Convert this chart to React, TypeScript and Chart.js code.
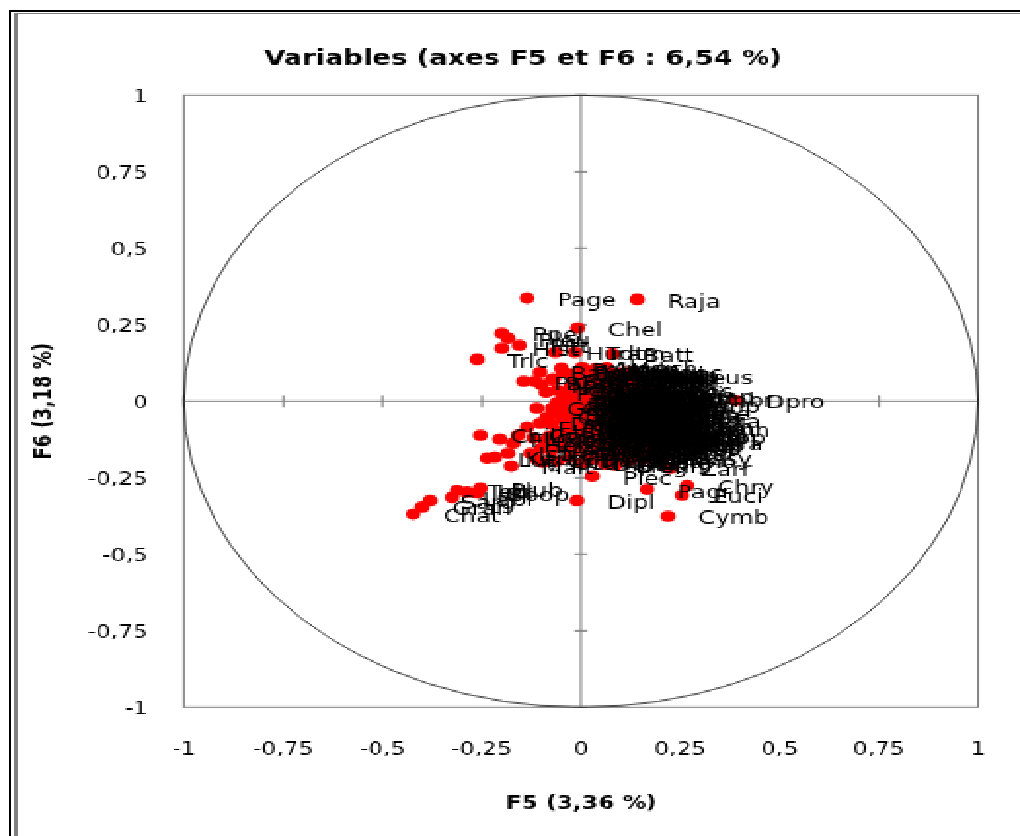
import React, { useEffect, useRef } from "react";
import { Chart, registerables } from "chart.js";

Chart.register(...registerables);

const chartTitle = "Variables (axes F5 et F6 : 6,54 %)";
const xAxisTitle = "F5 (3,36 %)";
const yAxisTitle = "F6 (3,18 %)";
const tickValues = [-1, -0.75, -0.5, -0.25, 0, 0.25, 0.5, 0.75, 1];
const tickLabels = ["-1", "-0,75", "-0,5", "-0,25", "0", "0,25", "0,5", "0,75", "1"];

const outerNames = ["Page","Raja","Chel","Ppel","Pleu","Pitt","Hist","Trlc","Hudt","Tram","Batt","Zeus","Dpro","Umbr","Cymb","Dipl","Plec","Zarr","Chry","Pagr","Euci","Basy","Chat","Chil","Gran","Sarg","Plub","Tetr","Juli","Labr","Boop"];
const outerF5 = [-0.136,0.141,-0.008,-0.199,-0.184,-0.156,-0.199,-0.262,-0.065,-0.015,0.08,0.207,0.39,0.239,0.219,-0.01,0.028,0.224,0.267,0.166,0.254,0.207,-0.423,-0.254,-0.4,-0.38,-0.254,-0.312,-0.287,-0.325,-0.262];
const outerF6 = [0.337,0.333,0.239,0.222,0.206,0.183,0.173,0.137,0.16,0.16,0.155,0.082,0.003,0.01,-0.376,-0.324,-0.245,-0.219,-0.275,-0.288,-0.307,-0.183,-0.369,-0.111,-0.346,-0.324,-0.284,-0.291,-0.297,-0.314,-0.3];

const coreNames = ["Gobi","Merl","Mull","Trig","Solo","Sepi","Loli",
"Sard","Engr","Scom","Trac","Boop","Dent","Lith","Spar",
"Mugi","Sola","Bles","Pell","Cita","Gale","Myli","Squa","Torp",
"Cong","Muri","Ophi","Sphy","Seri","Pomo","Umbr","Argy","Scia",
"Epin","Serr","Myct","Rhin","Gymn","Syng","Hipp","Bali","Mona","Cara",
"Alec","Caes","Vome","Lobo","Drep","Ilis","Syno","Saur","Tylo",
"Ablo","Hemi","Exoc","Bely","Sphe","Liza","Oedi","Cyno","Nemi","Bram",
"Lagu","Tetr","Psen","Stro","Cent","Anth","Macr","Pseu","Kyph"];
const coreF5 = [-0.03,0.012,0.041,0.068,0.094,0.118,0.137,
-0.045,-0.012,0.022,0.05,0.079,0.104,0.128,0.151,
-0.06,-0.022,0.006,0.033,0.061,0.087,0.112,0.14,0.163,
-0.052,-0.017,0.015,0.044,0.072,0.098,0.125,0.149,0.175,
-0.068,-0.031,0.003,0.029,0.056,0.083,0.109,0.134,0.158,0.186,
-0.047,-0.009,0.019,0.047,0.073,0.101,0.122,0.147,0.171,
-0.074,-0.036,-0.002,0.031,0.059,0.088,0.113,0.139,0.166,0.194,
-0.058,-0.021,0.011,0.038,0.066,0.093,0.119,0.145,0.178];
const coreF6 = [0.031,0.035,0.027,0.033,0.024,0.03,0.019,
0.012,0.018,0.009,0.016,0.006,0.013,0.004,0.011,
-0.004,-0.009,0.001,-0.006,-0.002,-0.011,-0.004,-0.013,-0.006,
-0.021,-0.027,-0.019,-0.026,-0.018,-0.029,-0.021,-0.03,-0.024,
-0.038,-0.043,-0.036,-0.047,-0.039,-0.045,-0.037,-0.049,-0.041,-0.046,
-0.059,-0.063,-0.055,-0.066,-0.058,-0.067,-0.056,-0.064,-0.06,
-0.076,-0.082,-0.074,-0.085,-0.077,-0.083,-0.074,-0.086,-0.079,-0.081,
-0.099,-0.094,-0.103,-0.096,-0.105,-0.098,-0.107,-0.095,-0.102];

const denseNames = ["Abra","Aeth","Agon","Albu","Aldr","Alop","Amia","Anar",
"Anth","Aphi","Arct","Arge","Ario","Atri","Aulu","Balo",
"Barb","Bedo","Blep","Both","Brac","Brev","Buce","Bugl",
"Cala","Cant","Carc","Cata","Ceph","Chae","Char","Chei",
"Chon","Cita","Clin","Coli","Cono","Core","Cren","Crom",
"Cteo","Cube","Cyan","Cycl","Cypr","Dall","Dasc","Deco",
"Derm","Dice","Dino","Diod","Dort","Dupl","Ecte","Elec",
"Elop","Enop","Eque","Etru","Eugo","Euth","Fier","Fodi",
"Gadu","Galu","Gera","Gerr","Giga","Ginl","Glyp","Gobu",
"Gram","Gyro","Hapl","Harp","Hemr","Hepa","Hipo","Holo"];
const denseF5 = [-0.038,-0.016,0.004,0.027,0.046,0.063,0.085,0.103,
-0.029,-0.008,0.013,0.035,0.052,0.074,0.091,0.112,
-0.041,-0.014,0.009,0.024,0.048,0.069,0.083,0.106,
-0.033,-0.005,0.017,0.039,0.058,0.076,0.095,0.115,
-0.044,-0.019,0.007,0.026,0.05,0.067,0.088,0.102,
-0.027,-0.003,0.021,0.042,0.061,0.081,0.097,0.118,
-0.039,-0.012,0.014,0.033,0.055,0.071,0.09,0.108,
-0.024,0.002,0.023,0.045,0.064,0.079,0.099,0.116,
-0.036,-0.01,0.016,0.036,0.053,0.075,0.092,0.11,
-0.028,-0.001,0.02,0.041,0.06,0.084,0.101,0.121];
const denseF6 = [0.026,0.03,0.024,0.029,0.022,0.027,0.025,0.03,
0.014,0.009,0.012,0.008,0.015,0.011,0.007,0.013,
-0.002,-0.005,0,-0.007,-0.001,-0.006,-0.003,-0.004,
-0.016,-0.02,-0.015,-0.022,-0.019,-0.014,-0.021,-0.017,
-0.032,-0.036,-0.033,-0.03,-0.037,-0.034,-0.031,-0.035,
-0.048,-0.052,-0.047,-0.051,-0.053,-0.049,-0.046,-0.05,
-0.064,-0.069,-0.065,-0.062,-0.068,-0.063,-0.067,-0.07,
-0.08,-0.084,-0.079,-0.085,-0.081,-0.078,-0.083,-0.086,
-0.095,-0.099,-0.094,-0.1,-0.096,-0.093,-0.098,-0.101,
-0.109,-0.112,-0.107,-0.113,-0.108,-0.111,-0.106,-0.114];

const upperNames = ["Pelm","Fist","Aulo","Maen","Spic","Gadi","Lepi","Arno","Cepo","Zosi","Blen","Call",
"Capr","Chlo","Cory","Dact","Echi","Fist","Gobs","Hali","Illa","Lamp","Nepr","Para",
"Peri","Quin","Rost","Scyl",
"Alos","Anch","Bali","Beli","Bore","Brot","Cerl","Cheb",
"Lati","Lepo","Ligu","Lunc","Meli","Mene","Mesa","Mola","Nasu","Neoc"];
const upperF5 = [-0.05,0.018,0.037,0.052,0.071,0.09,0.108,0.126,0.115,0.12,0.135,-0.07,
-0.006,0.027,0.058,0.083,0.113,0.125,0.15,0.165,0.18,0.19,-0.1,-0.145,
-0.088,0.096,0.131,-0.012,
0.003,0.065,-0.103,-0.045,-0.116,-0.073,-0.06,-0.028,
-0.03,-0.015,0.01,0.03,0.045,0.06,0.075,0.095,0.11,0.125];
const upperF6 = [0.108,0.092,0.107,0.088,0.098,0.083,0.093,0.076,0.087,0.066,0.072,0.074,
0.055,0.061,0.051,0.058,0.049,0.055,0.04,0.03,0.035,0.02,0.055,0.065,
0.03,0.071,0.063,0.082,
0.111,0.111,0.095,0.095,0.065,0.069,0.036,0.046,
0.09,0.075,0.085,0.075,0.095,0.08,0.07,0.09,0.08,0.095];

const lowerNames = ["Glos","Gaid","Bagr","Chim","Coel","Deca","Eutr","Flex","Gnat","Helc","Isti","Kaup","Lutj","Malt","Nota","Orth","Penn",
"Rhyn","Rubl","Sebc","Silh","Sten","Thun","Tora","Uran","Vale","Xiph","Xyri","Zebr","Acan","Alep","Ammo","Apog","Arna","Aste","Auxi","Bath","Bero","Bolo",
"Capn","Cent","Clup","Cott","Ctno","Dasy","Dipt","Elag","Eleg","Epig","Etmo","Gast","Gemp","Hete",
"Hexa","Hopl","Lamn","Lich","Lopp","Mela","Micr","Mora","Mobu","Nauc","Nett","Nezu","Oxyn",
"Pall","Para","Pegu","Phyc","Plat","Poly","Prio","Ptero","Raco","Remo","Ruvi","Salp","Scar","Scor","Selr","Sica"];
const lowerF5 = [-0.111,-0.073,-0.048,-0.048,-0.086,-0.103,-0.136,-0.204,-0.159,-0.171,-0.184,-0.217,-0.237,-0.176,-0.128,-0.096,0.086,
-0.12,-0.09,-0.06,-0.035,-0.01,0.025,0.05,0.08,0.105,0.13,0.155,0.19,0.215,-0.1,-0.075,-0.045,-0.02,0.01,0.04,0.07,0.1,0.125,
0.15,0.175,0.2,-0.11,-0.06,-0.03,0.005,0.03,0.06,0.12,0.155,0.175,0.19,0.205,
0.22,0.2,0.23,0.21,0.24,0.2,0.182,0.228,0.16,0.137,0.108,0.078,0.045,
-0.08,-0.04,0,0.035,0.065,0.095,0.12,0.15,0.18,-0.03,0.02,0.055,0.09,0.11,0.14,0.165];
const lowerF6 = [-0.023,-0.023,-0.007,-0.052,-0.052,-0.072,-0.085,-0.124,-0.111,-0.137,-0.17,-0.183,-0.186,-0.212,-0.17,-0.199,-0.209,
-0.12,-0.13,-0.125,-0.135,-0.122,-0.13,-0.14,-0.125,-0.135,-0.12,-0.13,-0.125,-0.115,-0.155,-0.16,-0.15,-0.165,-0.155,-0.17,-0.16,-0.175,-0.155,
-0.165,-0.15,-0.14,-0.19,-0.195,-0.185,-0.2,-0.19,-0.205,-0.195,-0.19,0.015,-0.012,-0.035,
-0.06,-0.075,-0.09,-0.105,-0.115,-0.1,-0.118,-0.132,-0.148,-0.14,-0.146,-0.113,-0.118,
-0.115,-0.118,-0.14,-0.15,-0.145,-0.15,-0.14,-0.145,-0.135,-0.15,-0.175,-0.18,-0.19,-0.165,-0.18,-0.17];

const names = [...outerNames, ...coreNames, ...denseNames, ...upperNames, ...lowerNames];
const f5 = [...outerF5, ...coreF5, ...denseF5, ...upperF5, ...lowerF5];
const f6 = [...outerF6, ...coreF6, ...denseF6, ...upperF6, ...lowerF6];

// The reference is a low-resolution picture enlarged unevenly: draw small, show large.
const SX = 1.95;
const SY = 1.5;
const W = Math.round(1020 / SX);
const H = Math.round(836 / SY);
const plotL = 184 / SX;
const plotR = 978 / SX;
const plotT = 95 / SY;
const plotB = 707 / SY;
const leftPad = 13.4;

const FONT = "'DejaVu Sans', sans-serif";

const axisDecor = {
  id: "axisDecor",
  beforeDatasetsDraw(chart: any) {
    const { ctx, scales } = chart;
    const { x, y } = scales;
    const x0 = x.getPixelForValue(0);
    const y0 = y.getPixelForValue(0);
    ctx.save();
    ctx.strokeStyle = "#808080";
    ctx.lineWidth = 1;
    ctx.strokeRect(x.left, y.top, x.right - x.left, y.bottom - y.top);
    ctx.beginPath();
    ctx.moveTo(x.left, y0);
    ctx.lineTo(x.right, y0);
    ctx.moveTo(x0, y.top);
    ctx.lineTo(x0, y.bottom);
    for (const v of tickValues) {
      const px = x.getPixelForValue(v);
      const py = y.getPixelForValue(v);
      ctx.moveTo(px, y0 - 4);
      ctx.lineTo(px, y0 + 4);
      ctx.moveTo(x0 - 3.2, py);
      ctx.lineTo(x0 + 3.2, py);
    }
    ctx.stroke();
    ctx.strokeStyle = "#000000";
    ctx.lineWidth = 0.7;
    ctx.beginPath();
    ctx.ellipse(x0, y0, x.getPixelForValue(1) - x0, y0 - y.getPixelForValue(1), 0, 0, Math.PI * 2);
    ctx.stroke();
    ctx.restore();
  },
  afterDatasetsDraw(chart: any) {
    const { ctx, scales } = chart;
    ctx.save();
    ctx.font = `12.5px ${FONT}`;
    ctx.fillStyle = "#000000";
    ctx.textAlign = "left";
    ctx.textBaseline = "middle";
    names.forEach((name, i) => {
      ctx.fillText(name, scales.x.getPixelForValue(f5[i]) + 15.5, scales.y.getPixelForValue(f6[i]) + 2.2);
    });
    ctx.restore();
  },
};

export default function App() {
  const ref = useRef<HTMLCanvasElement>(null);
  useEffect(() => {
    const chart = new Chart(ref.current as HTMLCanvasElement, {
      type: "scatter",
      data: {
        datasets: [
          {
            label: "Variables",
            data: f5.map((v, i) => ({ x: v, y: f6[i] })),
            backgroundColor: "#ff0000",
            borderColor: "#ff0000",
            pointRadius: 3.8,
            pointBorderWidth: 0,
          },
        ],
      },
      options: {
        animation: false,
        responsive: false,
        devicePixelRatio: 1,
        layout: { padding: { left: leftPad, right: 0, top: 0, bottom: 0 } },
        plugins: {
          legend: { display: false },
          tooltip: { enabled: false },
          title: {
            display: true,
            text: chartTitle,
            color: "#000000",
            font: { family: FONT, size: 14, weight: "bold", lineHeight: 1 },
            padding: { top: 32.3, bottom: plotT - 32.3 - 14 },
          },
        },
        scales: {
          x: {
            type: "linear",
            min: -1,
            max: 1,
            afterFit: (s: any) => {
              s.height = H - plotB;
              s.paddingLeft = 0;
              s.paddingRight = 0;
            },
            grid: { display: false, drawTicks: false },
            border: { display: false },
            ticks: {
              stepSize: 0.25,
              autoSkip: false,
              maxRotation: 0,
              padding: 21,
              color: "#000000",
              font: { family: FONT, size: 12 },
              callback: (v: any) => tickLabels[tickValues.indexOf(Number(v))],
            },
            title: {
              display: true,
              text: xAxisTitle,
              color: "#000000",
              font: { family: FONT, size: 12, weight: "bold", lineHeight: 1 },
              padding: { top: 0, bottom: 15 },
            },
          },
          y: {
            type: "linear",
            min: -1,
            max: 1,
            afterFit: (s: any) => { s.width = plotL - leftPad; },
            grid: { display: false, drawTicks: false },
            border: { display: false },
            ticks: {
              stepSize: 0.25,
              autoSkip: false,
              padding: 18.5,
              labelOffset: 2,
              color: "#000000",
              font: { family: FONT, size: 12 },
              callback: (v: any) => tickLabels[tickValues.indexOf(Number(v))],
            },
            title: {
              display: true,
              text: yAxisTitle,
              color: "#000000",
              font: { family: FONT, size: 12, weight: "bold", lineHeight: 1 },
              padding: { top: 3, bottom: 0 },
            },
          },
          spacer: {
            type: "linear",
            position: "right",
            display: true,
            afterFit: (s: any) => { s.width = W - plotR; },
            grid: { display: false, drawTicks: false },
            border: { display: false },
            ticks: { display: false },
          },
        },
      },
      plugins: [axisDecor],
    } as any);
    return () => chart.destroy();
  }, []);

  const bar = (left: number, top: number, width: number | string, height: number | string, background: string) => (
    <div style={{ position: "absolute", left, top, width, height, background }} />
  );

  return (
    <div style={{ position: "fixed", left: 0, top: 0, width: 1020, height: 836, overflow: "hidden", background: "#ffffff" }}>
      <canvas ref={ref} width={W} height={H} style={{ display: "block", width: 1020, height: 836, imageRendering: "pixelated" }} />
      {bar(9, 10, 1011, 2, "#000000")}
      {bar(14, 13, 1006, 1, "#808080")}
      {bar(9, 10, 2, 826, "#000000")}
      {bar(14, 13, 4, 823, "#808080")}
    </div>
  );
}
